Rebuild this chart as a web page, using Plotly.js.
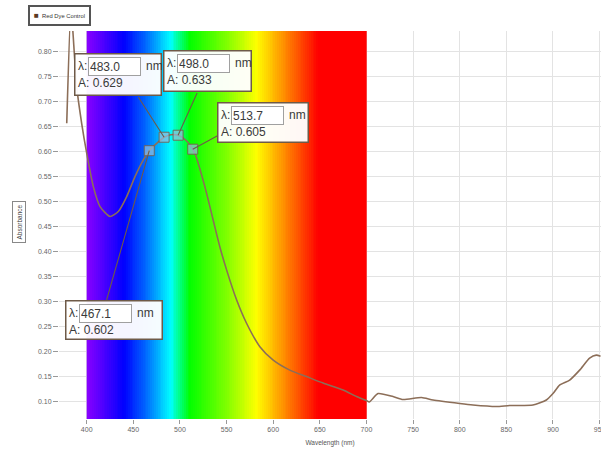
<!DOCTYPE html>
<html>
<head>
<meta charset="utf-8">
<script src="https://cdn.plot.ly/plotly-3.0.1.min.js"></script>
<style>html,body{margin:0;padding:0;background:#fff;}#chart{width:601px;height:449px;}</style>
</head>
<body>
<div id="chart"></div>
<script>
// ---- data ----
const wavelength = [378.6, 383.2, 385.3, 389.3, 394.6, 400.0, 407.1, 414.3, 425.0, 433.9, 442.9, 451.8, 460.6, 467.1, 475.3, 483.0, 490.3, 498.0, 506.4, 513.7, 516.0, 526.7, 535.6, 542.8, 550.0, 560.7, 571.4, 585.7, 600.0, 617.8, 635.7, 653.5, 675.0, 689.3, 700.0, 703.0, 712.4, 728.5, 739.2, 758.9, 771.4, 800.0, 814.2, 839.3, 853.5, 878.5, 892.9, 900.0, 907.1, 917.9, 928.6, 939.3, 946.4, 951.0];
const absorbance = [0.657, 0.894, 0.838, 0.730, 0.657, 0.597, 0.530, 0.490, 0.470, 0.480, 0.510, 0.550, 0.583, 0.602, 0.617, 0.629, 0.634, 0.633, 0.623, 0.605, 0.597, 0.530, 0.463, 0.409, 0.363, 0.303, 0.256, 0.209, 0.182, 0.162, 0.149, 0.136, 0.122, 0.109, 0.101, 0.098, 0.115, 0.109, 0.103, 0.107, 0.102, 0.095, 0.092, 0.089, 0.091, 0.092, 0.102, 0.115, 0.132, 0.142, 0.162, 0.186, 0.192, 0.190];
const peakWavelength = [467.1, 483.0, 498.0, 513.7];
const peakAbsorbance = [0.602, 0.629, 0.633, 0.605];
const xTicks = [400, 450, 500, 550, 600, 650, 700, 750, 800, 850, 900, 950];
const yTicks = [0.10, 0.15, 0.20, 0.25, 0.30, 0.35, 0.40, 0.45, 0.50, 0.55, 0.60, 0.65, 0.70, 0.75, 0.80];
const seriesName = 'Red Dye Control';
// visible spectrum band (decoration)
const spectrumStart = 400, spectrumEnd = 700;
const spectrumStops = [400, 440, 465, 490, 510, 550, 582, 615, 648, 700];
const spectrumColors = ['#8a00ff', '#0000ff', '#0070ff', '#00ffff', '#00ff00', '#80ff00', '#ffff00', '#ff8000', '#ff0000', '#ff0000'];

// ---- layout constants ----
const W = 601, H = 449;
const M = {l: 59, r: 0, t: 31, b: 30};
const xRange = [370.3, 951.5];
const yRange = [0.064, 0.842];
const plotW = W - M.l - M.r, plotH = H - M.t - M.b;
function pxToPaperX(px) { return (px - M.l) / plotW; }
function pxToPaperY(py) { return (H - M.b - py) / plotH; }
function pxToDataX(px) { return xRange[0] + (px - M.l) / plotW * (xRange[1] - xRange[0]); }
function pxToDataY(py) { return yRange[0] + (H - M.b - py) / plotH * (yRange[1] - yRange[0]); }

// spectrum heatmap
const specEdges = [], specZ = [];
for (let w = spectrumStart; w <= spectrumEnd; w += 2) specEdges.push(w);
for (let i = 0; i < specEdges.length - 1; i++) specZ.push((specEdges[i] + specEdges[i + 1]) / 2);
const colorscale = spectrumStops.map((s, i) => [(s - spectrumStart) / (spectrumEnd - spectrumStart), spectrumColors[i]]);

const traces = [
  {
    type: 'heatmap', x: specEdges, y: yRange, z: [specZ],
    zmin: spectrumStart, zmax: spectrumEnd, colorscale: colorscale,
    showscale: false, hoverinfo: 'skip'
  },
  {
    type: 'scatter', mode: 'lines', name: seriesName, x: wavelength, y: absorbance,
    line: {color: '#8c6e58', width: 1.6, shape: 'spline', smoothing: 0.6}, showlegend: false
  },
  {
    type: 'scatter', mode: 'markers', x: peakWavelength, y: peakAbsorbance, showlegend: false,
    marker: {symbol: 'square', size: 10, color: 'rgba(150,190,222,0.7)', line: {color: 'rgba(120,90,70,0.85)', width: 1}}
  }
];

// callout boxes (order matches peak arrays)
const boxLeft = [65, 74, 163, 217];
const boxTop = [300, 53, 50, 102];
const boxW = [98, 88, 89, 92];
const boxH = [40, 43, 42, 41];
const tailPx = [[106, 302], [137, 95], [198, 91], [219, 135]];
const drawOrder = [0, 1, 2, 3];
const font = 'Liberation Sans, Arial, sans-serif';
const txtColor = '#3a3a3a';
const edgeColor = '#6e5a48';

const annotations = [];
// arrows first so the boxes cover their tails
peakWavelength.forEach((w, i) => {
  annotations.push({
    x: w, y: peakAbsorbance[i], xref: 'x', yref: 'y',
    axref: 'x', ayref: 'y', ax: pxToDataX(tailPx[i][0]), ay: pxToDataY(tailPx[i][1]),
    text: ' ', font: {size: 1}, showarrow: true, arrowhead: 0, arrowwidth: 1.1,
    arrowcolor: edgeColor, standoff: 0, startstandoff: 0
  });
});
drawOrder.forEach(i => {
  const L = boxLeft[i], T = boxTop[i];
  annotations.push({
    xref: 'paper', yref: 'paper', x: pxToPaperX(L), y: pxToPaperY(T), xanchor: 'left', yanchor: 'top',
    text: ' ', width: boxW[i] - 3, height: boxH[i] - 3, showarrow: false,
    bgcolor: 'rgba(255,255,255,0.96)', bordercolor: edgeColor, borderwidth: 1.5, borderpad: 0
  });
  annotations.push({
    xref: 'paper', yref: 'paper', x: pxToPaperX(L + 2), y: pxToPaperY(T + 13), xanchor: 'left', yanchor: 'middle',
    text: 'λ:', showarrow: false, font: {family: font, size: 12, color: txtColor}
  });
  annotations.push({
    xref: 'paper', yref: 'paper', x: pxToPaperX(L + 14), y: pxToPaperY(T + 4), xanchor: 'left', yanchor: 'top',
    text: peakWavelength[i].toFixed(1), align: 'left', width: 49, height: 15, showarrow: false,
    font: {family: font, size: 12, color: txtColor},
    bordercolor: '#a0a0a0', borderwidth: 1, borderpad: 1, bgcolor: '#ffffff'
  });
  annotations.push({
    xref: 'paper', yref: 'paper', x: pxToPaperX(L + 70), y: pxToPaperY(T + 13), xanchor: 'left', yanchor: 'middle',
    text: 'nm', showarrow: false, font: {family: font, size: 12, color: txtColor}
  });
  annotations.push({
    xref: 'paper', yref: 'paper', x: pxToPaperX(L + 2), y: pxToPaperY(T + 30), xanchor: 'left', yanchor: 'middle',
    text: 'A: ' + peakAbsorbance[i].toFixed(3), showarrow: false, font: {family: font, size: 12, color: txtColor}
  });
});
// legend box
annotations.push({
  xref: 'paper', yref: 'paper', x: pxToPaperX(28), y: pxToPaperY(5), xanchor: 'left', yanchor: 'top',
  text: '<span style="color:#5b3a22;font-size:8px">■</span>  ' + seriesName, showarrow: false,
  font: {family: font, size: 5.8, color: '#333'}, bgcolor: '#fff', bordercolor: '#555', borderwidth: 2, borderpad: 4
});
// y title in a box
annotations.push({
  xref: 'paper', yref: 'paper', x: pxToPaperX(19), y: pxToPaperY(222), xanchor: 'center', yanchor: 'middle',
  text: 'Absorbance', textangle: -90, showarrow: false,
  font: {family: font, size: 6.5, color: '#444'}, bordercolor: '#888', borderwidth: 1, borderpad: 2.5
});

const layout = {
  width: W, height: H, margin: M,
  paper_bgcolor: '#ffffff', plot_bgcolor: '#ffffff', showlegend: false,
  font: {family: font},
  xaxis: {
    range: xRange, tickvals: xTicks, ticktext: xTicks.map(String), ticks: 'outside', ticklen: 4, tickcolor: '#999',
    tickfont: {size: 7, color: '#666'}, showgrid: true, gridcolor: '#e3e3e3', zeroline: false, showline: false,
    ticklabeloverflow: 'allow',
    title: {text: 'Wavelength (nm)', font: {size: 6.5, color: '#555'}, standoff: 8}
  },
  yaxis: {
    range: yRange, tickvals: yTicks, tickformat: '.2f', ticks: 'outside', ticklen: 5, tickcolor: '#999',
    tickfont: {size: 7, color: '#666'}, showgrid: true, gridcolor: '#e3e3e3', zeroline: false, showline: false
  },
  annotations: annotations
};

Plotly.newPlot('chart', traces, layout, {displayModeBar: false, staticPlot: true});
</script>
</body>
</html>
